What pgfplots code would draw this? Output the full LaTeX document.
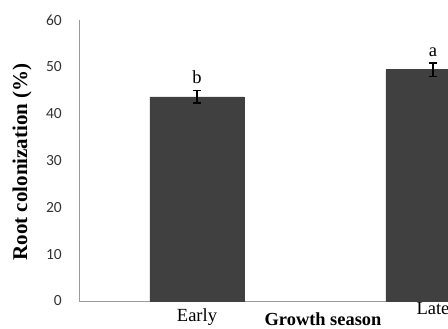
\documentclass[border=0pt]{standalone}
\usepackage{fontspec}
\setmainfont{Liberation Serif}
\newfontfamily\carlito{Carlito}
\usepackage{pgfplots}
\pgfplotsset{compat=1.18}
\definecolor{barc}{HTML}{404040}
\definecolor{axc}{HTML}{9A9A9A}
\definecolor{tickc}{HTML}{333333}
\begin{document}
\begin{tikzpicture}[x=1pt,y=1pt]
\useasboundingbox (0,0) rectangle (448,329);
\clip (0,0) rectangle (448,329);
\begin{axis}[
  at={(79pt,28pt)}, anchor=south west,
  scale only axis, width=472pt, height=281pt,
  xmin=-0.5, xmax=1.5, ymin=0, ymax=60,
  axis x line=bottom, axis y line=left,
  axis line style={draw=axc, line width=0.9pt, -},
  ytick={0,10,...,60}, xtick={0,1},
  xticklabels={Early,{\raisebox{7pt}{Late}}},
  major tick length=0pt,
  yticklabel style={font=\carlito\fontsize{15.5}{16}\selectfont, text=tickc, /pgf/number format/assume math mode=true, anchor=east, inner sep=0pt, xshift=-17pt},
  xticklabel style={font=\fontsize{18.5}{20}\selectfont, anchor=base, inner sep=0pt, yshift=-21pt},
  xlabel={Growth season},
  xlabel style={at={(axis description cs:0.517,0)}, anchor=base, inner sep=0pt, yshift=-25pt, font=\bfseries\fontsize{18.4}{20}\selectfont},
  ylabel={Root colonization (\%)},
  ylabel style={at={(axis description cs:-0.1208,0.495)}, anchor=center, inner sep=0pt, font=\bfseries\fontsize{21}{22}\selectfont},
  ybar, bar width=94pt,
  clip=false,
]
\addplot[fill=barc, draw=barc,
  error bars/.cd, y dir=both, y explicit,
  error bar style={line width=1.3pt, black},
  error mark=-,
  error mark options={rotate=90, mark size=4pt, line width=1.3pt, black}]
  coordinates {(0,43.6) +- (0,1.35) (1,49.4) +- (0,1.45)};
\node[anchor=base, inner sep=0pt, font=\fontsize{18.5}{20}\selectfont] at (axis cs:0,46.5) {b};
\node[anchor=base, inner sep=0pt, font=\fontsize{18.5}{20}\selectfont] at (axis cs:1,52.1) {a};
\end{axis}
\end{tikzpicture}
\end{document}
